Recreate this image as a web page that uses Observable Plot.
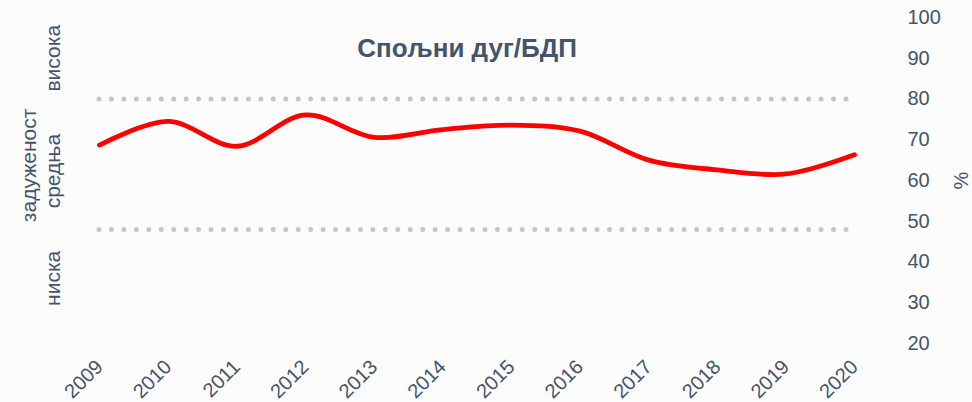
<!DOCTYPE html>
<html>
<head>
<meta charset="utf-8">
<script src="https://cdn.jsdelivr.net/npm/d3@7"></script>
<script src="https://cdn.jsdelivr.net/npm/@observablehq/plot@0.6"></script>
<style>
  html, body { margin: 0; padding: 0; background: #fcfcfc; }
  #chart svg { background: #fcfcfc; font-family: "Liberation Sans", Arial, sans-serif; }
</style>
</head>
<body>
<div id="chart"></div>
<script>
const years = [2009, 2010, 2011, 2012, 2013, 2014, 2015, 2016, 2017, 2018, 2019, 2020];
const debtToGdp = [68.7, 74.5, 68.4, 76.1, 70.6, 72.5, 73.6, 72.1, 65.0, 62.6, 61.6, 66.3];
const thresholds = [80, 48];
const yTicks = [20, 30, 40, 50, 60, 70, 80, 90, 100];
const zoneLabels = ["висока", "средња", "ниска"];
const zoneY = [90, 62.3, 36];
const sideLabel = "задуженост";
const sideLabelY = 63.7;
const title = "Спољни дуг/БДП";
const unit = "%";

const series = years.map((year, i) => ({year, value: debtToGdp[i]}));
const rules = thresholds.map(v => ({y: v, x1: years[0], x2: years[years.length - 1]}));
const zones = zoneLabels.map((label, i) => ({label, y: zoneY[i]}));

const textColor = "#44546a";

const chart = Plot.plot({
  width: 972,
  height: 402,
  marginTop: 17,
  marginBottom: 59,
  marginLeft: 99,
  marginRight: 118,
  style: {background: "#fcfcfc", color: textColor, fontFamily: "Liberation Sans, Arial, sans-serif", fontSize: "20px"},
  x: {domain: [years[0], years[years.length - 1]], type: "linear"},
  y: {domain: [20, 100]},
  marks: [
    Plot.axisY({anchor: "right", ticks: yTicks, tickSize: 0, tickPadding: 53, label: null, fontSize: 20, fill: textColor, textAnchor: "start"}),
    Plot.axisX({ticks: years, tickFormat: d => String(d), tickSize: 0, tickPadding: 20, tickRotate: -45, label: null, fontSize: 20, fill: textColor}),
    Plot.ruleY(rules, {y: "y", x1: "x1", x2: "x2", stroke: "#c6c6c6", strokeWidth: 5, strokeLinecap: "round", strokeDasharray: "0 12.45"}),
    Plot.line(series, {x: "year", y: "value", stroke: "#ff0000", strokeWidth: 4.8, curve: "catmull-rom", strokeLinecap: "round"}),
    Plot.text(zones, {y: "y", text: "label", frameAnchor: "left", textAnchor: "middle", lineAnchor: "middle", dx: -46, rotate: -90, fontSize: 21, fill: textColor}),
    Plot.text([sideLabel], {y: () => sideLabelY, text: d => d, frameAnchor: "left", textAnchor: "middle", lineAnchor: "middle", dx: -70, rotate: -90, fontSize: 21, fill: textColor}),
    Plot.text([title], {text: d => d, frameAnchor: "top", textAnchor: "middle", lineAnchor: "middle", dx: -10, dy: 31, fontSize: 26, fontWeight: "bold", fill: textColor}),
    Plot.text([unit], {text: d => d, frameAnchor: "right", textAnchor: "middle", lineAnchor: "middle", dx: 107, rotate: -90, fontSize: 20, fill: textColor})
  ]
});
document.getElementById("chart").appendChild(chart);
</script>
</body>
</html>
